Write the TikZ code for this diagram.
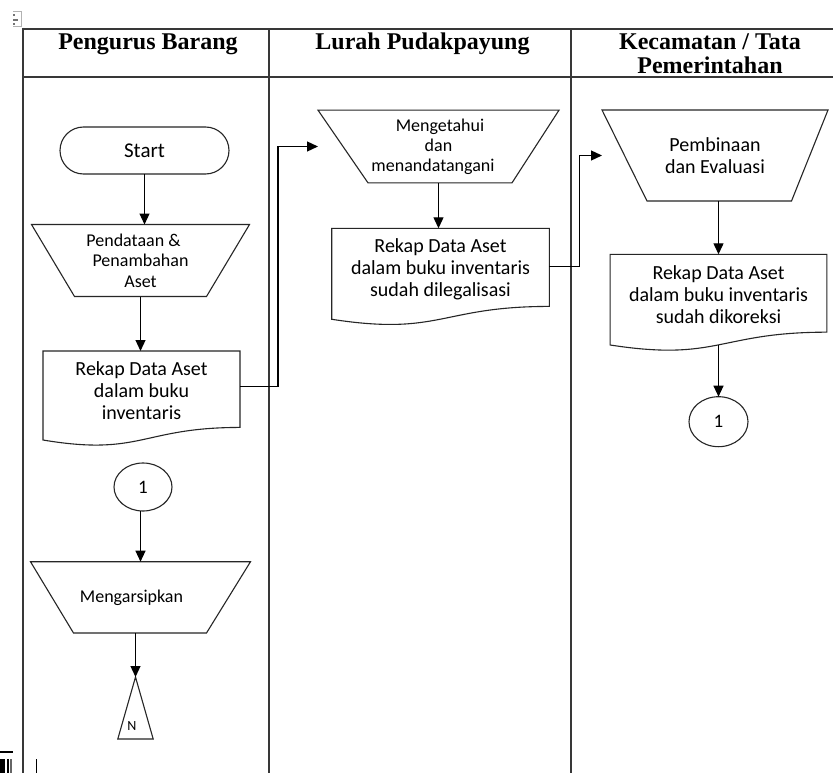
\documentclass[tikz,border=0pt]{standalone}
\usepackage{fontspec}
\setmainfont{Liberation Serif}
\newfontfamily\flowfont{Carlito}
\usetikzlibrary{arrows.meta,calc,shapes.geometric}

% outline of a manual-operation box: node name, left inset, right inset
\newcommand\trapout[3]{%
  \draw[outline] (#1.north west) -- (#1.north east)
    -- ($(#1.south east)+(-#3,0)$) -- ($(#1.south west)+(#2,0)$) -- cycle;}
% outline of a document box: node name, full height of the shape
\newcommand\docout[2]{%
  \draw[outline] (#1.north west) -- (#1.north east)
    -- ($(#1.north east)+(0,0.802*#2)$)
    .. controls ($(#1.north)+(0,0.802*#2)$) and ($(#1.north)+(0,1.107*#2)$)
    .. ($(#1.north west)+(0,0.934*#2)$) -- cycle;}

\tikzset{
  lane/.style={line width=2pt, draw=black!78},
  head/.style={font=\bfseries\fontsize{24}{24}\selectfont, anchor=base, inner sep=0pt},
  shapebox/.style={inner sep=0pt, outer sep=0pt, align=center},
  outline/.style={draw=black!85, line width=1.1pt},
  flow/.style={-{Triangle[length=11pt,width=10pt]}, line width=1.2pt},
}

\begin{document}
\begin{tikzpicture}[x=1pt,y=-1pt]
\useasboundingbox (0,0) rectangle (833,773);
\fill[white] (0,0) rectangle (833,773);

% swimlane table
\draw[lane] (23,29) -- (833,29);
\draw[lane] (23,77) -- (833,77);
\draw[lane] (23,28) -- (23,773);
\draw[lane] (269,29) -- (269,773);
\draw[lane] (571,29) -- (571,773);

% editor marks
\draw[black!30, line width=0.8pt] (13.3,11.7) -- (21.5,11.7) -- (21.5,26.7) -- (13.3,26.7);
\fill[black!55] (13.3,14.3) rectangle (15.3,16);
\fill[black!55] (13.3,19.2) rectangle (18.3,20.8);
\fill[black!55] (13.3,23.3) rectangle (15,25);
\fill[black] (0,750.7) rectangle (12.7,752.7);
\fill[black] (0,759.3) rectangle (4.7,773);
\fill[black] (6.7,759.3) rectangle (9,773);
\fill[black!60] (9.7,759.3) rectangle (12.3,773);
\draw[black, line width=1pt] (36.5,759) -- (36.5,773);

% lane headers
\node[head] (h1) at (148,50) {Pengurus Barang};
\node[head] (h2) at (422.5,50) {Lurah Pudakpayung};
\node[head] (h3) at (710,50) {Kecamatan / Tata};
\node[head] (h3b) at (710,74) {Pemerintahan};

% Pengurus Barang
\node[shapebox, outline, rounded corners=23.5pt, minimum width=169pt, minimum height=47pt,
      font=\flowfont\fontsize{21}{22}\selectfont] (start) at (144.5,150.5) {Start};
\node[shapebox, font=\flowfont\fontsize{18}{20.5}\selectfont,
      minimum width=218pt, minimum height=72pt] (t1) at (140.5,260.5)
  {Pendataan \&\hspace*{14pt}\\Penambahan\\Aset};
\trapout{t1}{43}{43}
\node[shapebox, font=\flowfont\fontsize{20}{22}\selectfont,
      minimum width=197pt, minimum height=80pt] (d1) at (141.5,391)
  {Rekap Data Aset\\dalam buku\\inventaris};
\docout{d1}{95.3}
\node[shapebox, outline, ellipse, minimum width=58pt, minimum height=48pt,
      font=\flowfont\fontsize{19}{20}\selectfont] (c1) at (143,487) {1};
\node[shapebox, font=\flowfont\fontsize{18}{20}\selectfont,
      minimum width=220pt, minimum height=71.3pt] (t3) at (140.5,597.35)
  {Mengarsipkan\hspace*{18pt}};
\trapout{t3}{43}{44}
\node[shapebox, minimum width=35.4pt, minimum height=62pt] (nend) at (135.5,708) {};
\draw[outline] (nend.north) -- (nend.south east) -- (nend.south west) -- cycle;
\node[inner sep=0pt, font=\flowfont\fontsize{14}{14}\selectfont] (nlabel) at (132,726) {N};

% Lurah Pudakpayung
\node[shapebox, font=\flowfont\fontsize{18}{20}\selectfont,
      minimum width=241pt, minimum height=72.7pt] (t2) at (438.5,146.5)
  {\hspace*{3pt}Mengetahui\\dan\hspace*{14pt}\\menandatangani\hspace*{11pt}};
\trapout{t2}{50}{47}
\node[shapebox, font=\flowfont\fontsize{20}{22.2}\selectfont,
      minimum width=217.6pt, minimum height=81.8pt] (d2) at (440.5,269.2)
  {Rekap Data Aset\\dalam buku inventaris\\sudah dilegalisasi};
\docout{d2}{97.4}

% Kecamatan / Tata Pemerintahan
\node[shapebox, font=\flowfont\fontsize{20}{21.7}\selectfont,
      minimum width=226pt, minimum height=91pt] (t4) at (715,155.5)
  {Pembinaan\\dan Evaluasi};
\trapout{t4}{45}{36.5}
\node[shapebox, font=\flowfont\fontsize{20}{22}\selectfont,
      minimum width=216.7pt, minimum height=80.4pt] (d3) at (718.5,294.5)
  {Rekap Data Aset\\dalam buku inventaris\\sudah dikoreksi};
\docout{d3}{97.1}
\coordinate (d3foot) at ($(d3.north)+(0,0.933*97.1)$);
\node[shapebox, outline, ellipse, minimum width=59pt, minimum height=50pt,
      font=\flowfont\fontsize{19}{20}\selectfont] (c3) at (718.5,421.7) {1};

% connectors
\draw[flow] (start.south) -- (start.south |- t1.north);
\draw[flow] (t1.south) -- (t1.south |- d1.north);
\draw[flow] ([yshift=4.5pt]d1.east) -- ++(38,0) |- (t2.west);
\draw[flow] (t2.south) -- (t2.south |- d2.north);
\draw[flow] ([yshift=2.7pt]d2.east) -- ++(30.2,0) |- (t4.west);
\draw[flow] (d3.north |- t4.south) -- (d3.north);
\draw[flow] (d3foot) -- (d3foot |- c3.north);
\draw[flow] (t3.north |- c1.south) -- (t3.north);
\draw[flow] (nend.north |- t3.south) -- (nend.north);
\end{tikzpicture}
\end{document}
